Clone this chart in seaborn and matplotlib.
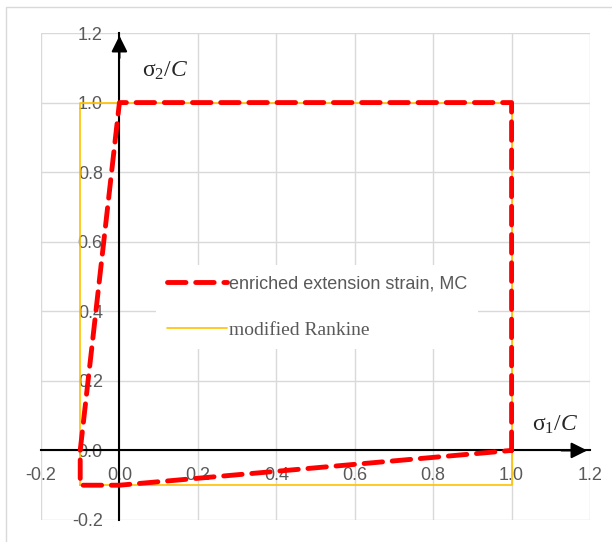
import matplotlib
matplotlib.use("Agg")
import matplotlib.pyplot as plt
import seaborn as sns
import pandas as pd
from matplotlib.patches import Rectangle

# data
mc_s1 = [1.0, 1.0, 0.0, -0.1, -0.1, 0.0, 1.0]
mc_s2 = [0.0, 1.0, 1.0, 0.0, -0.1, -0.1, 0.0]
rk_s1 = [-0.1, 1.0, 1.0, -0.1, -0.1]
rk_s2 = [-0.1, -0.1, 1.0, 1.0, -0.1]
ticks = [-0.2, 0.0, 0.2, 0.4, 0.6, 0.8, 1.0, 1.2]
tick_labels = ["-0.2", "0.0", "0.2", "0.4", "0.6", "0.8", "1.0", "1.2"]
mc_label = "enriched extension strain, MC"
rk_label = "modified Rankine"

sns.set_style("white")
plt.rcParams['font.family'] = ['Liberation Sans', 'DejaVu Sans']
plt.rcParams['mathtext.fontset'] = 'custom'
plt.rcParams['mathtext.rm'] = 'Liberation Serif'
plt.rcParams['mathtext.it'] = 'Liberation Serif:italic'

fig = plt.figure(figsize=(6.12, 5.42), dpi=100)
ax = fig.add_axes([41/612, 1-520/542, 549/612, 487/542])

# figure border (top/left visible)
fig.patches.append(Rectangle((6/612, -0.1), 1.2, (542-7)/542 + 0.1, transform=fig.transFigure,
                             fill=False, edgecolor='#d9d9d9', linewidth=1.0))

df_mc = pd.DataFrame({"s1": mc_s1, "s2": mc_s2})
df_rk = pd.DataFrame({"s1": rk_s1, "s2": rk_s2})

sns.lineplot(data=df_rk, x="s1", y="s2", sort=False, estimator=None, ax=ax,
             color='#FFC000', linewidth=1.2, label=rk_label, zorder=3)
sns.lineplot(data=df_mc, x="s1", y="s2", sort=False, estimator=None, ax=ax,
             color='#FF0000', linewidth=3.5, label=mc_label, zorder=4,
             dashes=False)
ln = ax.get_lines()[-1]
ln.set_dashes([3.8, 2.0])
ln.set_dash_capstyle('round')
ln.set_solid_capstyle('round')

ax.set_xlim(-0.2, 1.2)
ax.set_ylim(-0.2, 1.2)
ax.set_xticks(ticks)
ax.set_yticks(ticks)
ax.set_xticklabels(tick_labels)
ax.set_yticklabels(tick_labels)
ax.grid(True, color='#d9d9d9', linewidth=1.0)
ax.set_axisbelow(True)
ax.set_xlabel("")
ax.set_ylabel("")

for s in ['top', 'right']:
    ax.spines[s].set_visible(False)
ax.spines['left'].set_position(('data', 0))
ax.spines['bottom'].set_position(('data', 0))
for s in ['left', 'bottom']:
    ax.spines[s].set_color('black')
    ax.spines[s].set_linewidth(1.5)
    ax.spines[s].set_zorder(2)

ax.tick_params(axis='both', which='both', colors='black', labelcolor='#595959',
               labelsize=13, length=3, width=1.2, direction='out')
ax.tick_params(axis='y', pad=9)
ax.tick_params(axis='x', pad=9)

# arrows
ax.annotate('', xy=(1.2, 0), xytext=(1.12, 0),
            arrowprops=dict(arrowstyle='-|>', color='black', lw=1.5, mutation_scale=24),
            annotation_clip=False)
ax.annotate('', xy=(0, 1.2), xytext=(0, 1.12),
            arrowprops=dict(arrowstyle='-|>', color='black', lw=1.5, mutation_scale=24),
            annotation_clip=False)

ax.text(0.117, 1.092, r'$\mathrm{\sigma}_2/C$', fontsize=17, ha='center', va='center')
ax.text(1.112, 0.074, r'$\mathrm{\sigma}_1/C$', fontsize=17, ha='center', va='center')

handles, labels = ax.get_legend_handles_labels()
order = [1, 0]
leg = ax.legend([handles[i] for i in order], [labels[i] for i in order],
                loc='center', bbox_to_anchor=(0.503, 0.437), frameon=True,
                facecolor='white', edgecolor='none', framealpha=1.0,
                fontsize=13, handlelength=3.3, handletextpad=0.1,
                labelspacing=1.6, borderpad=0.6, labelcolor='#595959')
leg.get_texts()[1].set_family('Liberation Serif')
leg.get_texts()[1].set_fontsize(14)

fig.savefig("out.png", dpi=100)
